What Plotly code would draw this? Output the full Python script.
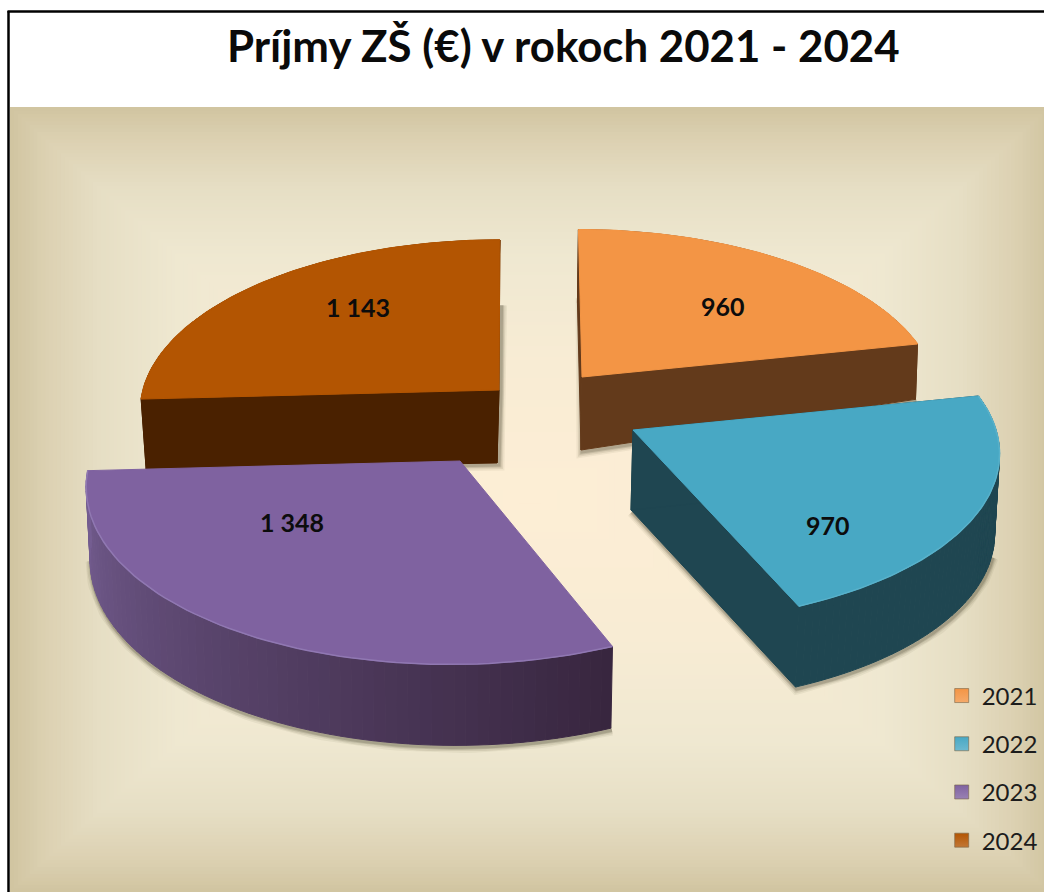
import numpy as np
import plotly.graph_objects as go

TITLE = "Príjmy ZŠ (€) v rokoch 2021 - 2024"
years = ["2021", "2022", "2023", "2024"]
values = [960, 970, 1348, 1143]

top_colors = ["#F39545", "#48A8C4", "#7F62A0", "#B35502"]
wall_left = ["#633A1B", "#1F4651", "#755E92", "#4A2100"]
wall_right = ["#633A1B", "#1F4651", "#38263F", "#4A2100"]
bevel_colors = ["#F39545", "#58B1CA", "#9078B2", "#B35502"]

# Per-slice view geometry of the exploded, tilted pie (pixels on the page)
PERSP = 0.12
apex = [(582, 377), (633, 430), (460, 461), (499, 390)]
scale_u = [352, 363, 370, 356]
scale_v = [165, 170, 179, 168]
shear = [-4, -7, 8.7, 1]
height = [(73, -18, 0), (80, 0, -1), (75, 3, -6), (73, 3, 0)]
foot = [(-1, -1), (-2, -3), (0, -4), (-2, -7)]
label_xy = [(723, 306), (828, 525), (292, 522), (358, 307)]
draw_order = [0, 3, 1, 2]

BG = dict(x0=10, x1=1044, y0=107, y1=892, cx=530, cy=500, power_x=0.82)
stops_t = [0.0, 0.35, 0.62, 0.8, 0.92, 1.0]
stops_c = [(253, 238, 213), (248, 236, 212), (239, 232, 209), (230, 222, 196), (220, 209, 178), (209, 197, 161)]

total = sum(values)
edges = np.concatenate([[0], np.cumsum(values)]) / total * 2 * np.pi


def project(i, u, v):
    w = 1 + PERSP * v
    return apex[i][0] + (scale_u[i] * u + shear[i] * v) / w, apex[i][1] - scale_v[i] * v / w


def project_foot(i, u, v):
    x, y = project(i, u, v)
    h0, hu, hv = height[i]
    return x + foot[i][0] + foot[i][1] * u, y + h0 + hu * u + hv * v


def arc(i, a0=None, a1=None, n=70):
    a0 = edges[i] if a0 is None else a0
    a1 = edges[i + 1] if a1 is None else a1
    t = np.linspace(a0, a1, n)
    return np.sin(t), np.cos(t)


def lerp(c0, c1, t):
    c0 = [int(c0[k:k + 2], 16) for k in (1, 3, 5)]
    c1 = [int(c1[k:k + 2], 16) for k in (1, 3, 5)]
    return "rgb(%d,%d,%d)" % tuple(round(a + (b - a) * t) for a, b in zip(c0, c1))


fig = go.Figure()


def poly(xs, ys, color, line=None):
    fig.add_trace(go.Scatter(x=list(xs), y=list(ys), mode="lines", fill="toself", fillcolor=color,
                             line=dict(color=line or color, width=1), hoverinfo="skip", showlegend=False))


def shadow(xs, ys):
    for width, alpha in ((11, 0.06), (8, 0.09), (5, 0.13), (3, 0.16)):
        fig.add_trace(go.Scatter(x=[x + 1 for x in xs], y=[y + 2 for y in ys], mode="lines",
                                 line=dict(color=f"rgba(50,45,25,{alpha})", width=width),
                                 hoverinfo="skip", showlegend=False))


for i in draw_order:
    us, vs = arc(i)
    top_x, top_y = project(i, us, vs)
    foot_x, foot_y = project_foot(i, us, vs)
    ax, ay = project(i, 0.0, 0.0)
    fx, fy = project_foot(i, 0.0, 0.0)

    # soft shadow hugging the slice's lower outline
    if i == 0:
        sx0, sy0 = project(i, 0.0, 0.52)
        shadow([sx0, ax - 1, fx] + list(foot_x[-1:]), [sy0, ay, fy] + list(foot_y[-1:]))
    elif i == 3:
        sx0, sy0 = project(i, 0.0, 0.55)
        shadow([sx0 + 1, ax + 1, fx + 1, foot_x[0]], [sy0, ay, fy, foot_y[0]])
    elif i == 1:
        su, sv = arc(i, np.radians(105), edges[i + 1])
        sx, sy = project_foot(i, su, sv)
        shadow([fx] + list(sx[::-1]), [fy] + list(sy[::-1]))
    else:
        su, sv = arc(i, edges[i], np.radians(262))
        sx, sy = project_foot(i, su, sv)
        shadow(list(sx), list(sy))

    # walls
    n = len(us)
    for k in range(n - 1):
        t = 1 - k / (n - 2)
        c = lerp(wall_left[i], wall_right[i], t)
        poly([top_x[k], top_x[k + 1], foot_x[k + 1], foot_x[k], top_x[k]],
             [top_y[k], top_y[k + 1], foot_y[k + 1], foot_y[k], top_y[k]], c)
    if i != 2:
        solid = wall_right[i]
        poly([ax, top_x[-1], foot_x[-1], fx, ax], [ay, top_y[-1], foot_y[-1], fy, ay], solid)
        poly([ax, top_x[0], foot_x[0], fx, ax], [ay, top_y[0], foot_y[0], fy, ay], solid)

    # top face
    poly([ax] + list(top_x) + [ax], [ay] + list(top_y) + [ay], top_colors[i])
    fig.add_trace(go.Scatter(x=list(top_x), y=list(top_y), mode="lines",
                             line=dict(color=bevel_colors[i], width=1.5),
                             hoverinfo="skip", showlegend=False))

# data labels
for i, v in enumerate(values):
    fig.add_annotation(x=label_xy[i][0], y=label_xy[i][1], text=f"{v:,}".replace(",", " "),
                       showarrow=False, font=dict(family="Lato", size=25, color="#0c0c0c", weight=700))

# legend
for i, year in enumerate(years):
    fig.add_trace(go.Scatter(x=[None], y=[None], mode="markers", name=year, legendgroup=year,
                             marker=dict(symbol="square", size=14, color=top_colors[i],
                                         gradient=dict(type="vertical", color=lerp(top_colors[i], "#FFFFFF", 0.2)),
                                         line=dict(color="rgba(120,100,70,0.6)", width=1))))

# background: rectangular path gradient from the centre outwards
shapes = []
W = max(BG["cx"] - BG["x0"], BG["x1"] - BG["cx"])
H_up = BG["cy"] - BG["y0"]
H_down = BG["y1"] - BG["cy"]
steps = 110
for s in range(steps, 0, -1):
    t = s / steps
    col = [np.interp(t, stops_t, [c[k] for c in stops_c]) for k in range(3)]
    fill = "rgb(%d,%d,%d)" % tuple(round(c) for c in col)
    half_w = W * t ** BG["power_x"]
    shapes.append(dict(type="rect", layer="below", xref="x", yref="y", line_width=0, fillcolor=fill,
                       x0=max(BG["x0"], BG["cx"] - half_w), x1=min(BG["x1"], BG["cx"] + half_w),
                       y0=BG["cy"] - H_up * t, y1=BG["cy"] + H_down * t))
# frame
shapes.append(dict(type="line", xref="x", yref="y", x0=8.5, x1=8.5, y0=11, y1=892, line=dict(color="black", width=2.5)))
shapes.append(dict(type="line", xref="x", yref="y", x0=7.5, x1=1044, y0=11.5, y1=11.5, line=dict(color="black", width=2.5)))

fig.add_annotation(x=563, y=45, text=TITLE, showarrow=False,
                   font=dict(family="Lato", size=43.8, color="#0a0a0a", weight=700))

fig.update_layout(
    width=1044, height=892, autosize=False,
    margin=dict(l=0, r=0, t=0, b=0),
    paper_bgcolor="white", plot_bgcolor="white",
    shapes=shapes,
    xaxis=dict(range=[0, 1044], visible=False, fixedrange=True),
    yaxis=dict(range=[892, 0], visible=False, fixedrange=True),
    legend=dict(x=0.902, y=0.245, xanchor="left", yanchor="top", bgcolor="rgba(0,0,0,0)",
                tracegroupgap=14, itemwidth=30, traceorder="grouped",
                font=dict(family="Lato", size=24, color="#1c1c1c")),
)
fig.write_html("out.html", config=dict(displayModeBar=False),
               post_script="document.body.style.margin='0';document.documentElement.style.overflow='hidden';")
